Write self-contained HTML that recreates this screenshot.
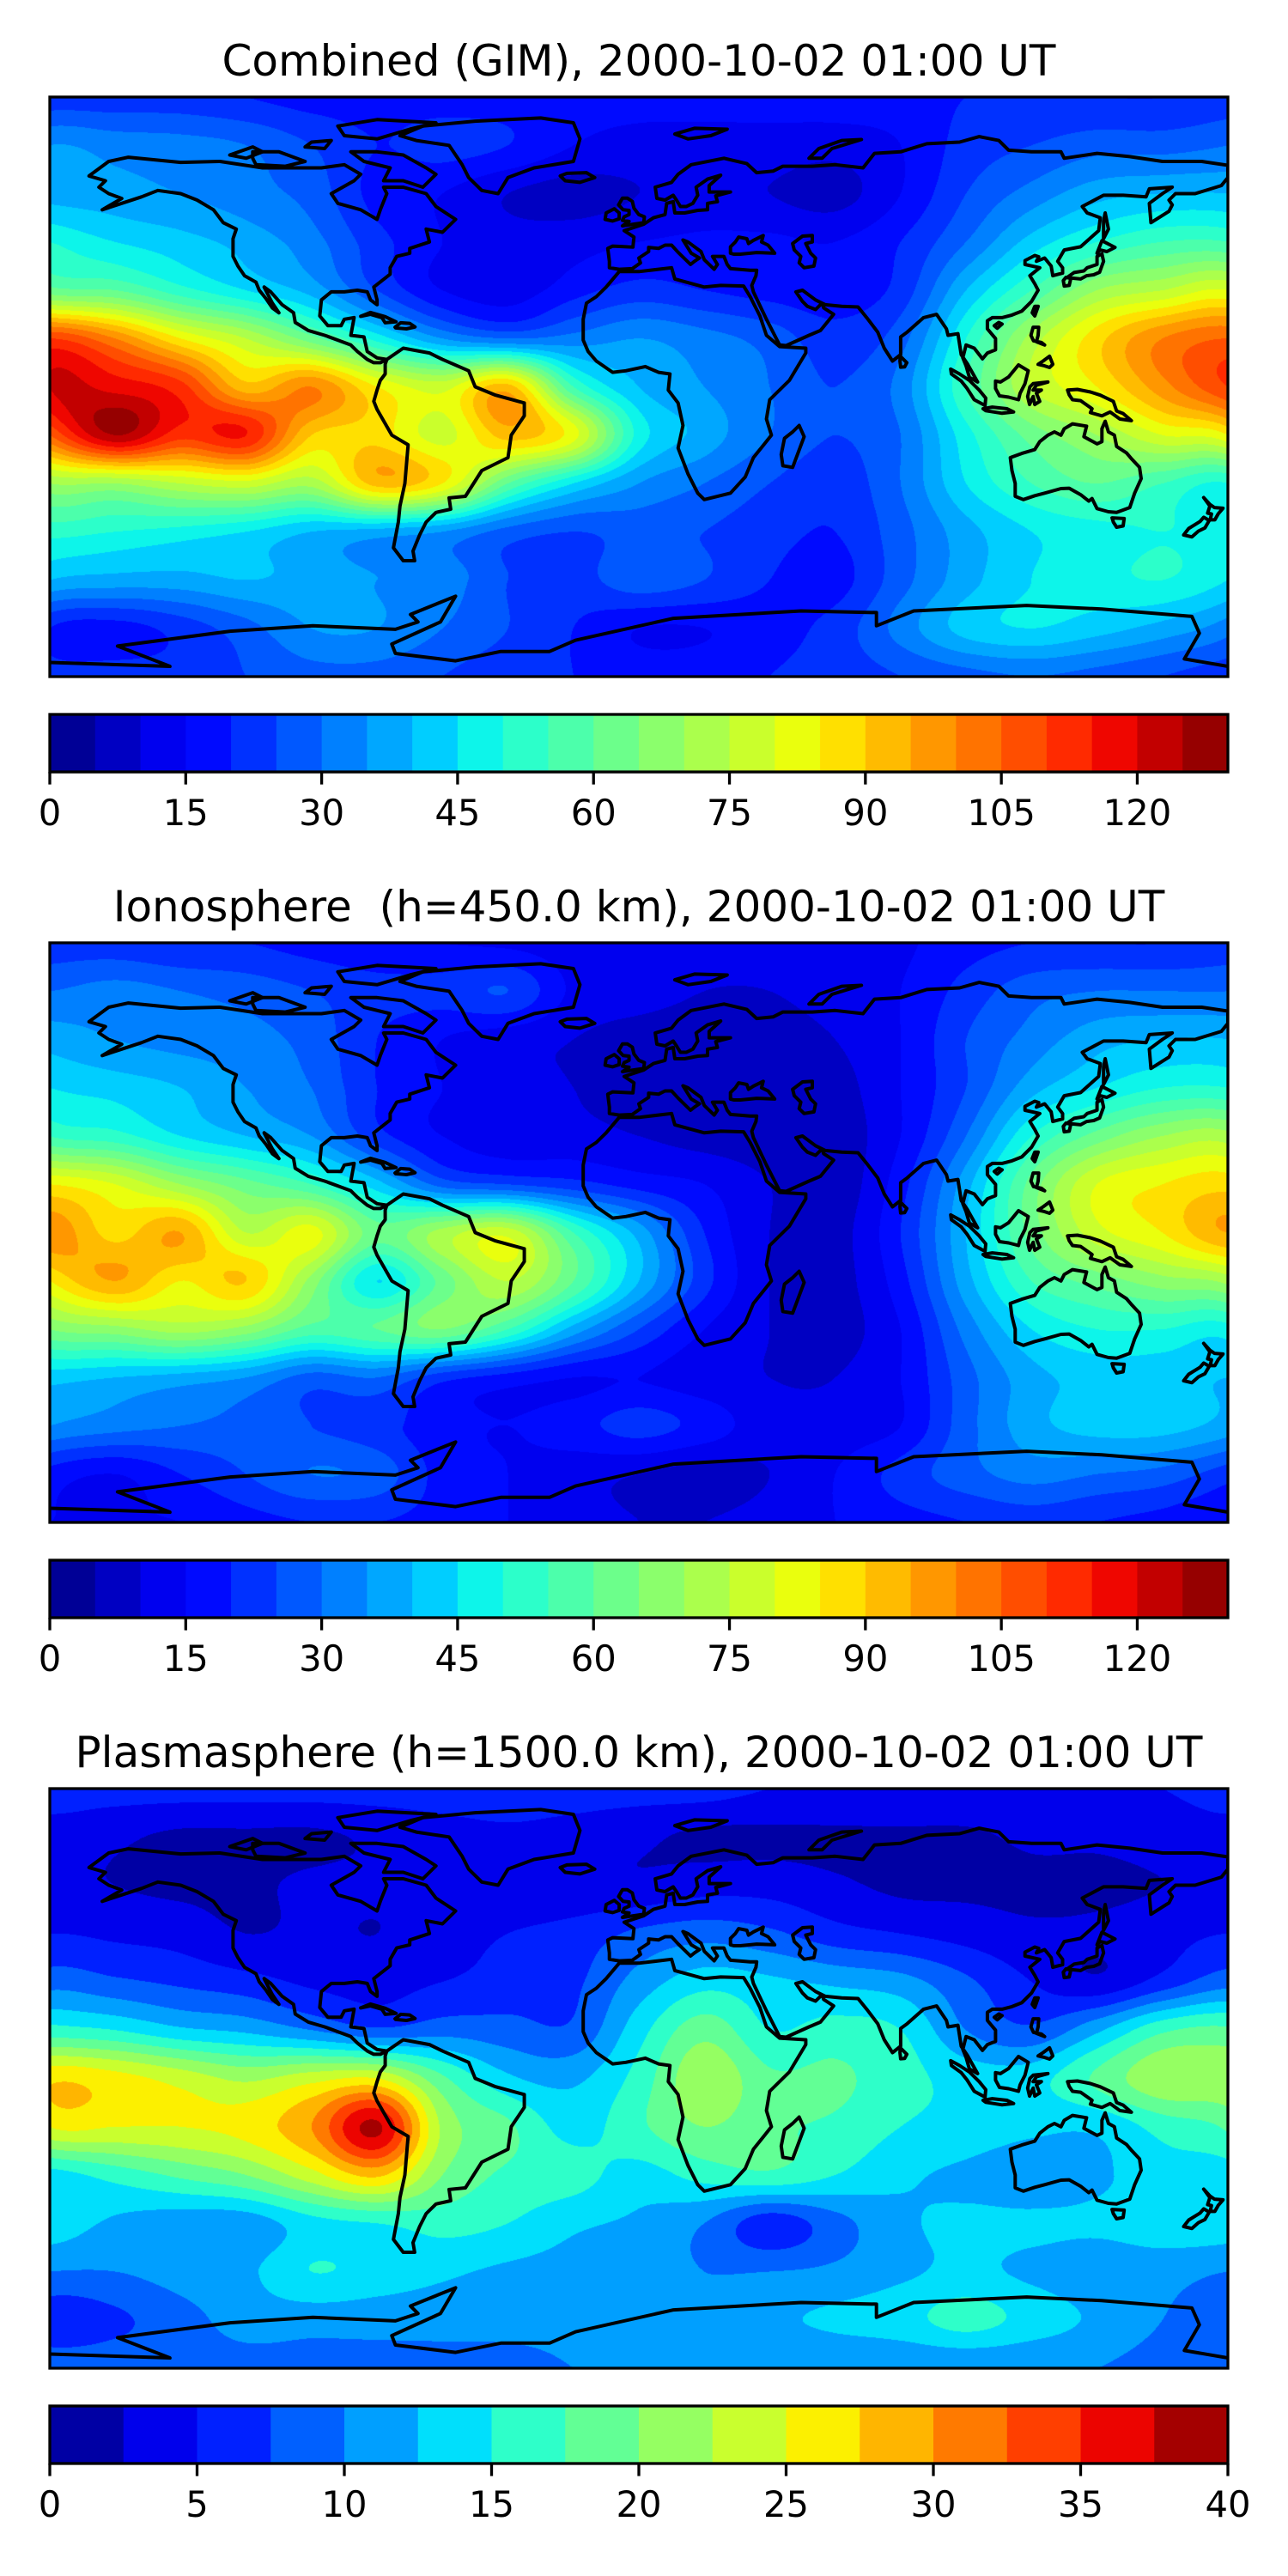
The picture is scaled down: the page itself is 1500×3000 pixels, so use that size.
<!DOCTYPE html>
<html><head><meta charset="utf-8">
<style>
html,body{margin:0;padding:0;background:#fff;}
#root{position:relative;width:1500px;height:3000px;overflow:hidden;background:#fff;}
canvas{position:absolute;}
svg{position:absolute;left:0;top:0;}
text{font-family:"DejaVu Sans","Liberation Sans",sans-serif;fill:#000;}
</style></head>
<body>
<div id="root">
<canvas id="c0" width="1372" height="675" style="left:58px;top:113px"></canvas>
<canvas id="c1" width="1372" height="675" style="left:58px;top:1098px"></canvas>
<canvas id="c2" width="1372" height="675" style="left:58px;top:2083px"></canvas>
<svg id="ov" width="1500" height="3000">
<text x="744" y="88" font-size="50" text-anchor="middle" xml:space="preserve">Combined (GIM), 2000-10-02 01:00 UT</text>
<text x="744" y="1073" font-size="50" text-anchor="middle" xml:space="preserve">Ionosphere  (h=450.0 km), 2000-10-02 01:00 UT</text>
<text x="744" y="2058" font-size="50" text-anchor="middle" xml:space="preserve">Plasmasphere (h=1500.0 km), 2000-10-02 01:00 UT</text>
</svg>
</div>
<script>
// grid: lon -180..180 step 20, lat 90..-90 step 15
const gridLons=[-180,-160,-140,-120,-100,-80,-60,-40,-20,0,20,40,60,80,100,120,140,160,180];
const gridLats=[90,75,60,45,30,15,0,-15,-30,-45,-60,-75,-90];

const gimValues=[
[22,22,22,20,18,18,18,18,17,17,17,17,18,18,20,20,20,20,22],
[35,33,32,30,25,20,22,20,15,13,13,13,12,15,22,25,28,28,30],
[38,37,35,32,28,18,15,10,8,10,12,10,8,15,25,32,38,40,40],
[50,45,42,38,32,22,15,12,13,15,16,16,15,20,30,42,50,55,55],
[62,60,52,45,38,25,15,12,18,22,20,18,17,22,40,55,70,75,80],
[110,100,85,75,62,48,35,30,32,35,32,28,22,28,50,72,88,100,105],
[120,118,112,92,100,85,78,92,55,40,35,30,25,32,55,75,85,98,110],
[105,125,112,115,90,88,78,92,82,48,38,30,25,30,48,62,70,80,85],
[70,70,75,78,72,92,85,60,45,35,30,25,22,30,45,55,60,55,50],
[52,50,48,45,40,38,35,28,25,27,25,22,20,28,38,45,48,50,48],
[40,38,38,40,38,35,33,25,23,28,25,20,18,28,38,45,48,50,45],
[20,18,22,28,35,35,30,25,20,15,15,18,22,32,42,45,42,38,32],
[22,22,22,25,28,28,25,22,20,18,18,20,22,25,28,30,28,25,22]];

const ionoValues=[
[22,22,20,20,18,16,15,14,12,12,12,12,12,14,18,20,20,20,22],
[30,32,30,28,25,22,22,25,14,12,10,10,12,15,22,28,30,30,30],
[38,35,33,32,28,20,15,12,10,8,8,8,10,15,25,32,38,40,40],
[45,43,40,35,30,20,15,12,10,8,8,7,8,15,25,38,45,50,50],
[55,52,45,40,35,22,15,12,12,10,8,7,7,15,30,50,62,70,72],
[85,80,70,62,55,42,28,25,22,18,15,10,7,18,38,62,80,85,88],
[98,88,95,75,82,62,72,78,55,38,20,10,8,20,40,62,78,85,95],
[85,95,85,90,68,45,62,75,60,40,22,10,8,18,38,55,62,68,72],
[65,68,72,68,58,60,65,55,38,25,15,10,8,15,32,45,50,50,48],
[42,40,38,35,28,30,22,18,15,15,12,10,10,15,28,38,42,42,40],
[35,32,30,28,25,22,17,15,18,22,18,12,12,15,28,38,42,42,38],
[18,15,20,25,30,28,18,15,12,10,8,10,15,22,28,32,30,28,22],
[15,15,15,18,20,20,18,15,12,10,10,12,15,18,20,22,20,18,15]];

const plasmaValues=[
[6,6,6,6,6,6,6,6,6,6,6,5,5,5,5,5,5,5,6],
[4,3,2,2,2,3,4,4.5,4,3,2,2,2,2,2,3,3,3.5,4],
[3,2.5,2,2,3,3,3,3,3,3,4,4,3,2,2,2,2,2.5,3],
[5,4.5,4,2.5,3,2.5,4,5,6,8,9,8,6,5,4,3,3,4,5],
[9,8,7,6,4.5,4,5,6,7,11,14,13,12,11,8,5,3,6,9],
[16,15,13,12,10,8,9,8.5,8,14,19,15,16,15,10,8,12,17,18],
[27,26,24,22,24,25,18,13,12,16,22,18,18,16,14,14,18,22,22],
[25,25,25,26,30,38,22,18,14,17,20,18,17,15,14,13,13,16,18],
[14,16,18,20,24,28,20,17,16,14,16,17,15,13,12,11,12,14,14],
[14,12,11,11,14,15,16,15,13,12,10,6,9,12,13,13,13,14,14],
[10,10,11,12,15,14,13,12,11.5,11,10,10,10.5,12,13,12,11,11,10],
[6,7,9,11,11,11,11,11,11,11,11,12,13,14,16,14,12,10,8],
[9,9,9,9,9,9,9,9,10,10,10,10,10,10,10,10,10,9,9]];

const tecTicks=[0,15,30,45,60,75,90,105,120];
const plasmaTicks=[0,5,10,15,20,25,30,35,40];

// coastlines (lon, lat)
const coastPolys=[
[[-168,65.5],[-162,70],[-156,71.3],[-140,69.7],[-128,70],[-115,68],[-105,68],[-97,68],[-90,69],[-85,66],[-87,64],[-94,60],[-92,57],[-85,55],[-80,52],[-79,55],[-77,60],[-78,62],[-72,62],[-65,60],[-62,56],[-56,52],[-60,48],[-65,49],[-64,45],[-70,43],[-70,41.5],[-74,40.5],[-76,37],[-76,35],[-81,31],[-80,27],[-80,25.5],[-82,27],[-83,29.5],[-86,30],[-90,29.5],[-94,29.5],[-97,27],[-97.5,22],[-95,19],[-91,19],[-90,21],[-87,21.5],[-88,16],[-84,15.5],[-83,11],[-80,9],[-77,8.5],[-79,7.5],[-81,7.5],[-83,8.5],[-86,11],[-88,13],[-92,14.5],[-96,16],[-101,17.5],[-105,20],[-105.5,23],[-109,25.5],[-112.5,29.5],[-114.5,31],[-113,28],[-112,26],[-110,23],[-112,24.5],[-114,27.5],[-116,30],[-117,32.5],[-120.5,34.5],[-122.5,37.5],[-124,40.5],[-124,46],[-123,49],[-127,51],[-130,55],[-135,58],[-140,60],[-147,61],[-152,59],[-158,57],[-164,55],[-158,58.5],[-162,60],[-165,62],[-163,64]],
[[-73,78],[-66,81],[-50,82.5],[-30,83.5],[-20,82],[-18,77],[-20,70],[-23,69.5],[-32,68],[-40,65],[-43,60],[-48,61],[-52,65],[-54,69],[-58,75],[-68,76.5]],
[[-80,73],[-72,72],[-65,68],[-62,66],[-66,62],[-72,64],[-78,64],[-76,68],[-84,70],[-88,73]],
[[-118,73],[-110,73],[-102,70],[-108,68.5],[-117,69],[-118,71]],
[[-90,78],[-80,77],[-70,80],[-62,82],[-80,83],[-92,81]],
[[-125,72],[-118,74.5],[-115,73],[-120,71]],
[[-100,76],[-94,76.5],[-96,74],[-102,74.5]],
[[-77,8.5],[-72,12],[-64,10.5],[-60,8.5],[-52,5],[-50,0],[-44,-2.5],[-35,-5],[-35,-9],[-39,-15],[-40,-22],[-48,-26],[-53,-34],[-58,-34.5],[-57.5,-38],[-62,-39],[-65,-42],[-67,-46],[-69,-51],[-68.5,-54],[-72,-54],[-75,-50],[-73.5,-42],[-73,-37],[-71.5,-30],[-70.5,-18],[-75.5,-15],[-80,-7],[-81,-4.5],[-80,-1],[-79,2],[-77.5,4],[-77.5,7]],
[[-17,21],[-16,26],[-13,28],[-10,31],[-6,35.8],[0,35.8],[10,37],[11,33.5],[20,31],[25,31.5],[32,31.3],[34,28],[37,22],[39,16],[43,12.5],[51,12],[51,10.5],[46,2],[40,-4],[39,-10],[40.5,-15],[35,-22],[32.5,-28],[28,-33],[20,-35],[18,-33],[15,-27],[12,-19],[13.5,-12],[12,-5],[9,-1],[9.5,4],[6,4.5],[2,6.3],[-4,5],[-8,4.5],[-13,8],[-15.5,11],[-17,14.5]],
[[49,-12],[50.5,-15.5],[47,-25],[44,-24.5],[43.5,-21],[44.5,-16],[47,-14]],
[[-9.5,43],[-9,39],[-9,37],[-6,36.5],[-2,36.7],[0.5,38.5],[0,40],[3,42],[3,43.3],[6,43],[8,44],[10,44],[12,41.8],[15.8,38],[17,39],[18.5,40],[16,41.5],[13.5,45.6],[15,45],[19,42],[20,39.5],[23,36.5],[24,38],[22.5,40.5],[26,40.5],[27,38],[28,36.7],[30.5,36.5],[34,36.2],[36,36.2],[35.8,34.5],[34.5,31.5],[35,29.5],[39,21],[43,13],[45,12.8],[52,16],[55.5,17.5],[59.5,22.5],[56.5,24.5],[56,26],[54,24],[51.5,25],[50,26.5],[48,29.5],[50,30],[54,27],[57,25.5],[62,25],[67,24.8],[70,21],[73,17],[75,12],[77.5,8],[80,10],[80,15.5],[82,17],[87,21.5],[91,22.5],[94,18],[94.5,16],[97.5,16.5],[98.5,10],[100.5,7],[103.5,1.5],[101,3],[100,6.5],[99,9],[100,13],[102.5,12],[105,8.7],[106.5,10.5],[109,11.5],[109,15],[106.5,18],[106.5,20.5],[108,21.5],[111,21.5],[114,22.3],[117,23.5],[120,26.5],[122,30],[121,32],[119.5,34.5],[122.5,37],[118,38],[118,39.2],[121,40.8],[122.2,40.4],[121.5,39],[124,40],[126,37.5],[126.5,34.5],[129.5,35.3],[129.5,37],[128,39],[130,42.5],[135,43.5],[140.5,48.5],[141,52.5],[137,54],[135.5,56],[142,59.5],[148,59.5],[155,59],[156,61.5],[163,62],[160,60],[156,57],[156.5,51],[162,54.5],[163,56.5],[162,58],[164,60],[170,60],[178,62.5],[180,65],[180,68.8],[172,70],[160,70],[150,71.5],[140,72.5],[130,71],[129,73],[120,73],[113,73.5],[110,76.5],[104,77.7],[98,76],[88,75.5],[80,73],[72,72.5],[68.5,68],[60,69],[53,68.5],[44,68.5],[41,67],[36,66.5],[33,69.3],[26,71],[16,69],[12,66],[10,63.5],[5,62],[5.5,58.5],[8,58],[10.5,59.5],[11.5,58],[12.7,56],[14.5,56],[16.5,57],[18,59.5],[17.5,62],[21,64.5],[25,65.7],[21.5,62.5],[21.5,60.5],[28,60.5],[23.5,59.3],[24,57.5],[21,57],[21,55],[18,54.8],[14,54],[11,54],[10.5,57.5],[8.5,57],[8,53.5],[4.5,52.5],[1.5,50.5],[-1.5,49.5],[-4.5,48.5],[-1.5,46.5],[-1.8,43.4],[-8,43.7]],
[[28,41.5],[29,41.2],[31,41.2],[36,41.7],[41.5,41.5],[39.5,44],[37.5,45],[38,47],[35,45.5],[33.5,44.5],[33,46],[30.5,46.5],[29.5,45],[28,43.5]],
[[47,44.5],[50,46.8],[53,47],[53,45],[51,44.5],[52.5,41.5],[54,40],[53.5,37.5],[50.5,37],[49,38.5],[49.5,40.5],[47.5,42.5]],
[[-5,50],[1.5,51],[1.7,52.8],[0,53.5],[-1.5,55.5],[-2,57.6],[-3.5,58.6],[-5,58.6],[-6.2,56.5],[-4.8,55],[-3,54.8],[-3,53.5],[-4.5,52.8],[-5,51.7],[-3,51.4]],
[[-6,52.2],[-6,54],[-7.5,55.3],[-10,54],[-10.3,52],[-8,51.5]],
[[-22.5,64],[-24,65.5],[-22,66.3],[-16,66.5],[-13.5,65],[-18,63.5]],
[[130.9,34],[133,35.5],[136,36],[137,37],[140,38],[140,40.5],[141.5,41.3],[142,39],[140.8,35.6],[139,34.8],[136.8,34.5],[135,33.5],[132,33.8]],
[[140,41.5],[141.5,45.4],[145.5,43.3],[143,42],[141,42.5]],
[[130,31.3],[131.5,31.5],[132,33.7],[130.5,34],[129.7,33]],
[[142,46],[143.5,49],[142.5,54],[142,51.5]],
[[121,25],[122,25],[121,22],[120.2,23]],
[[108.6,19],[110,20],[111,19.5],[109.5,18.2]],
[[79.9,9.5],[81.9,7.5],[81.2,6.2],[80,6.1],[79.8,8]],
[[95.3,5.5],[98,4],[101,2],[104,-1],[106,-3.5],[105.8,-5.8],[102.5,-4],[100.3,-0.5],[98.5,1.8],[95.5,4]],
[[105.2,-6.8],[108,-6.3],[112.5,-6.8],[114.5,-7.8],[111,-8.2],[106,-7.4]],
[[109,1.8],[110.5,1.5],[113,3.1],[116,6.8],[119,5],[118,1],[116.5,-2],[116,-4],[113,-3.2],[110.2,-2.8],[109,-0.5]],
[[119.5,0],[120.5,1],[125,1.5],[121.5,0.5],[120.5,-1],[123,-1],[121.5,-2],[122.5,-4.5],[121,-5.5],[120.5,-3],[119.4,-5.5],[118.8,-3]],
[[120.5,18.5],[122.2,18.5],[122,16],[121.5,14],[124,13],[123,13.8],[120.6,14.3],[119.8,16]],
[[122,7],[123.5,8],[125.5,9.5],[126.5,7],[125.5,6],[124,6.5]],
[[131,-1],[134,-0.8],[138,-1.6],[141,-2.6],[145,-4.5],[146,-7.5],[148,-8.3],[150.5,-10.5],[147,-10],[144,-7.8],[141.5,-9],[138,-8],[138.5,-6.8],[135,-4.3],[132.5,-4],[131.5,-2.5]],
[[113.5,-22],[114,-26],[115,-30],[115,-34],[117.5,-35],[121,-33.8],[124,-33],[129,-31.6],[131.5,-31.5],[135,-33.5],[137.5,-35.5],[138.5,-34.7],[140,-37.8],[143.5,-38.8],[146,-39],[150,-37.5],[151.5,-33],[153.5,-28.5],[153,-25],[150.7,-22.5],[149,-20.5],[146,-18.5],[145.3,-15],[143.5,-14],[142.5,-10.7],[141.5,-13],[141.5,-17],[140,-17.7],[136,-15.5],[136.8,-12.2],[132.5,-11.5],[130,-13],[129,-15],[127,-14],[125,-15],[122.5,-17],[121,-19.5],[117,-20.7],[114,-21.8]],
[[144.6,-40.7],[148.3,-40.9],[148,-43.2],[146,-43.6],[145,-42]],
[[172.6,-34.4],[174.5,-36.5],[175.9,-37.5],[178.5,-37.7],[177,-39.5],[176,-41.3],[174.6,-41.3],[175,-39.5],[173.8,-39.2],[174.5,-37]],
[[172.6,-40.5],[174.3,-41.5],[173,-43.8],[171,-44.8],[169,-46.6],[166.5,-46],[168,-44],[171.5,-41.8]],
[[-85,21.9],[-82,23.1],[-77.5,21.8],[-74.2,20.2],[-77.5,19.9],[-78.5,21.5],[-82,22.5]],
[[-74.5,18.5],[-72.8,19.9],[-70,19.7],[-68.4,18.6],[-71,18],[-74.3,18.3]],
[[52,71],[56,71],[59,74],[68,76.8],[62,76.5],[55,74]],
[[11,78.5],[17,80.3],[27,80],[22,78],[15,77]]
];
const antarcticaLine=[[-180,-85.6],[-143.3,-86.8],[-159.3,-80.5],[-124.9,-75.9],[-99.6,-74.2],[-74.4,-75.3],[-67.5,-73],[-69.8,-70.7],[-56,-65],[-60.6,-73],[-75.5,-79.9],[-74.4,-82.8],[-56,-85.1],[-42.2,-82.2],[-27.3,-82.2],[-19.3,-78.7],[10.6,-71.9],[49.6,-69.6],[72.6,-70.1],[72.6,-74.2],[84,-69.6],[118.5,-67.9],[141.4,-69],[169,-71.3],[171.3,-76.5],[166.7,-84.5],[180,-86.8]];

const MAPX=58, MAPW=1372, MAPH=675;
const panels=[
 {id:'c0',name:'gim',values:gimValues,top:113,step:5,vmax:130,ticks:tecTicks},
 {id:'c1',name:'ionosphere',values:ionoValues,top:1098,step:5,vmax:130,ticks:tecTicks},
 {id:'c2',name:'plasmasphere',values:plasmaValues,top:2083,step:2.5,vmax:40,ticks:plasmaTicks}
];

function seg(x,pts){for(let i=1;i<pts.length;i++){if(x<=pts[i][0]){const a=pts[i-1],b=pts[i];return a[1]+(b[1]-a[1])*(x-a[0])/(b[0]-a[0]);}}return pts[pts.length-1][1];}
function jet(x){
 const r=seg(x,[[0,0],[0.35,0],[0.66,1],[0.89,1],[1,0.5]]);
 const g=seg(x,[[0,0],[0.125,0],[0.375,1],[0.64,1],[0.91,0],[1,0]]);
 const b=seg(x,[[0,0.5],[0.11,1],[0.34,1],[0.65,0],[1,0]]);
 return [Math.round(r*255),Math.round(g*255),Math.round(b*255)];
}
function cr(p0,p1,p2,p3,t){return 0.5*((2*p1)+(-p0+p2)*t+(2*p0-5*p1+4*p2-p3)*t*t+(-p0+3*p1-3*p2+p3)*t*t*t);}

const NS='http://www.w3.org/2000/svg';
const ov=document.getElementById('ov');
function mk(tag,attrs){const e=document.createElementNS(NS,tag);for(const k in attrs)e.setAttribute(k,attrs[k]);return e;}

panels.forEach(p=>{
 const nb=Math.round(p.vmax/p.step);
 const cols=[];for(let i=0;i<nb;i++)cols.push(jet((i+0.5)/nb));
 const cv=document.getElementById(p.id),ctx=cv.getContext('2d');
 const img=ctx.createImageData(MAPW,MAPH),d=img.data;
 const G=p.values,R=G.length,C=G[0].length;
 const row=new Array(C);
 for(let py=0;py<MAPH;py++){
  const lat=90-(py+0.5)/MAPH*180;
  const fy=(90-lat)/15;let iy=Math.floor(fy);if(iy>R-2)iy=R-2;const ty=fy-iy;
  const yi=k=>Math.max(0,Math.min(R-1,k));
  for(let c=0;c<C;c++)row[c]=cr(G[yi(iy-1)][c],G[yi(iy)][c],G[yi(iy+1)][c],G[yi(iy+2)][c],ty);
  for(let px=0;px<MAPW;px++){
   const lon=-180+(px+0.5)/MAPW*360;
   const fx=(lon+180)/20;let ix=Math.floor(fx);if(ix>C-2)ix=C-2;const tx=fx-ix;
   const xi=k=>k<0?k+C-1:(k>C-1?k-C+1:k);
   const v=cr(row[xi(ix-1)],row[ix],row[ix+1],row[xi(ix+2)],tx);
   let b=Math.floor(v/p.step);if(b<0)b=0;if(b>nb-1)b=nb-1;
   const o=(py*MAPW+px)*4,cc=cols[b];d[o]=cc[0];d[o+1]=cc[1];d[o+2]=cc[2];d[o+3]=255;
  }
 }
 ctx.putImageData(img,0,0);

 const px=(lon)=>MAPX+(lon+180)/360*MAPW, py=(lat)=>p.top+(90-lat)/180*MAPH;
 const g=mk('g',{});
 
 
 const clip=mk('clipPath',{id:'clip'+p.id});clip.appendChild(mk('rect',{x:MAPX,y:p.top,width:MAPW,height:MAPH}));ov.appendChild(clip);
 g.setAttribute('clip-path','url(#clip'+p.id+')');
 coastPolys.forEach(poly=>{
  const dd='M'+poly.map(q=>px(q[0]).toFixed(1)+','+py(q[1]).toFixed(1)).join('L')+'Z';
  const path=mk('path',{d:dd,fill:'none',stroke:'#000','stroke-width':4,'stroke-linejoin':'round'});
  
  
  g.appendChild(path);
 });
 const ad='M'+antarcticaLine.map(q=>px(q[0]).toFixed(1)+','+py(q[1]).toFixed(1)).join('L');
 const ap=mk('path',{d:ad,fill:'none',stroke:'#000','stroke-width':4,'stroke-linejoin':'round'});
 
 
 g.appendChild(ap);
 ov.appendChild(g);
 const frame=mk('rect',{x:MAPX,y:p.top,width:MAPW,height:MAPH,fill:'none',stroke:'#000','stroke-width':3.3});
 
 
 ov.appendChild(frame);

 const cbTop=p.top+719, cbH=67;
 const cb=mk('g',{});
 
 
 const sx=v=>MAPX+v/p.vmax*MAPW;
 for(let i=0;i<nb;i++){
  const x0=sx(i*p.step),x1=sx((i+1)*p.step);
  const r=mk('rect',{x:x0.toFixed(2),y:cbTop,width:(x1-x0+0.6).toFixed(2),height:cbH,fill:'rgb('+cols[i].join(',')+')'});
  
  
  cb.appendChild(r);
 }
 const o=mk('rect',{x:MAPX,y:cbTop,width:MAPW,height:cbH,fill:'none',stroke:'#000','stroke-width':3.3});
 
 
 cb.appendChild(o);
 p.ticks.forEach(t=>{
  const x=sx(t);
  const tl=mk('line',{x1:x,x2:x,y1:cbTop+cbH,y2:cbTop+cbH+14.6,stroke:'#000','stroke-width':3.3});
  
  
  cb.appendChild(tl);
  const tx=mk('text',{x:x,y:cbTop+cbH+62,'font-size':41.7,'text-anchor':'middle'});
  tx.textContent=String(t);
  
  
  cb.appendChild(tx);
 });
 ov.appendChild(cb);
});
</script>
</body></html>
